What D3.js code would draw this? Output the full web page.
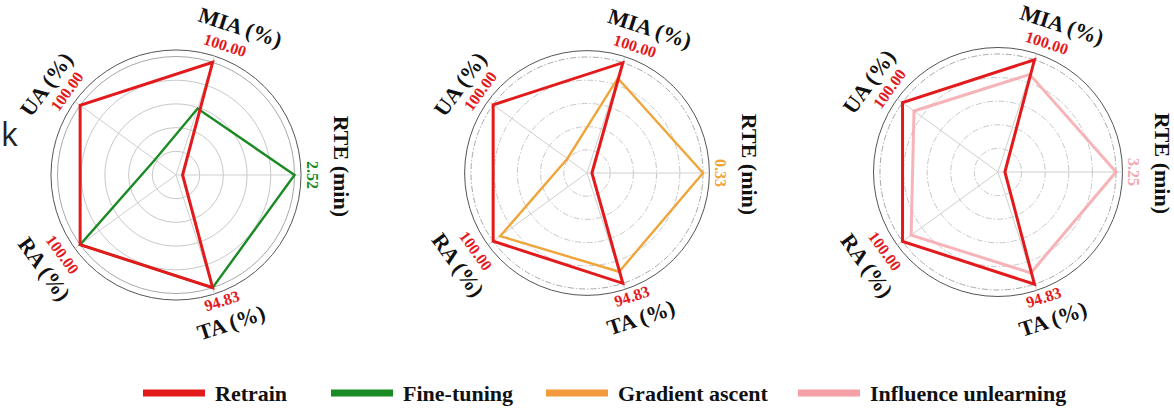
<!DOCTYPE html>
<html>
<head>
<meta charset="utf-8">
<script src="https://cdn.jsdelivr.net/npm/d3@7"></script>
<style>
  html, body { margin: 0; padding: 0; background: #fff; }
  svg { display: block; }
  .serif { font-family: "Liberation Serif", "Times New Roman", serif; font-weight: bold; }
</style>
</head>
<body>
<svg id="chart" width="1174" height="408"></svg>
<script>
// Axes of every radar, counter-clockwise from the right-hand spoke
const axes = ["RTE (min)", "MIA (%)", "UA (%)", "RA (%)", "TA (%)"];

// Values per method, in axis order: RTE, MIA, UA, RA, TA
const retrainVsFT = [0.14, 100, 100, 100, 94.83];
const fineTuning = [2.52, 59, 22, 100, 94.83];
const retrainVsGA = [0.014, 100, 100, 100, 94.83];
const gradientAscent = [0.33, 86, 21, 92.5, 84.9];
const retrainVsIU = [0.19, 100, 100, 100, 94.83];
const influenceUnlearning = [3.25, 87, 88, 91, 85.3];

const methodNames = ["Retrain", "Fine-tuning", "Gradient ascent", "Influence unlearning"];
const methodColors = ["#e31a1c", "#1a8a24", "#f0a53a", "#f4a7ad"];
const legendColors = ["#e31a1c", "#1a8a24", "#f39a3c", "#f5a0a6"];

const panels = [
  { cx: 176, cy: 175, R: 118.5, dashed: false,
    series: [{ values: fineTuning, method: 1 }, { values: retrainVsFT, method: 0 }] },
  { cx: 587, cy: 173, R: 116, dashed: true,
    series: [{ values: gradientAscent, method: 2 }, { values: retrainVsGA, method: 0 }] },
  { cx: 998, cy: 172, R: 118, dashed: true,
    series: [{ values: influenceUnlearning, method: 3 }, { values: retrainVsIU, method: 0 }] }
];

// label placement around the rim: [clockwise angle offset in degrees, radius factor]
const axisLabelPos = [[-3, 1.40], [5.5, 1.36], [-1, 1.335], [0.5, 1.365], [-2.5, 1.33]];
const valueLabelPos = [[0, 1.15], [2.7, 1.17], [1.5, 1.16], [1, 1.17], [-2, 1.13]];

const svg = d3.select("#chart");
const n = axes.length;
// d3 radial angle: 0 at 12 o'clock, clockwise
const angle = d3.scaleLinear().domain([0, n]).range([Math.PI / 2, Math.PI / 2 - 2 * Math.PI]);

function polar(a, r) { return [r * Math.sin(a), -r * Math.cos(a)]; }
function tangentRotation(a) {
  let deg = a * 180 / Math.PI;
  while (deg > 90) deg -= 180;
  while (deg <= -90) deg += 180;
  return deg;
}

// stray glyph left of the first radar
svg.append("text")
  .attr("x", 1).attr("y", 146)
  .style("font-family", "'Open Sans', 'DejaVu Sans', sans-serif")
  .style("font-size", "32px")
  .style("fill", "#222")
  .text("k");

panels.forEach(p => {
  const g = svg.append("g").attr("transform", `translate(${p.cx},${p.cy})`);

  // one radial scale per axis, spanning 0 .. max of the panel
  const radial = axes.map((_, i) => {
    const max = d3.max(p.series, s => s.values[i]);
    return d3.scaleLinear().domain([0, max]).range([0, p.R]);
  });
  const rim = p.R * 1.055;

  // grid rings
  g.selectAll("circle.grid")
    .data(d3.range(1, 6).map(k => k / 5))
    .join("circle")
    .attr("class", "grid")
    .attr("r", t => t * p.R)
    .attr("fill", "none")
    .attr("stroke", t => t === 1 ? "#a8a8a8" : "#c8c8c8")
    .attr("stroke-width", 1)
    .attr("stroke-dasharray", p.dashed ? "6,2,1.5,2" : null);

  // outer spine
  g.append("circle")
    .attr("r", rim)
    .attr("fill", "none")
    .attr("stroke", "#555")
    .attr("stroke-width", 1);

  // spokes
  g.selectAll("line.spoke")
    .data(axes)
    .join("line")
    .attr("class", "spoke")
    .attr("x1", 0).attr("y1", 0)
    .attr("x2", (_, i) => polar(angle(i), rim)[0])
    .attr("y2", (_, i) => polar(angle(i), rim)[1])
    .attr("stroke", "#cfcfcf")
    .attr("stroke-width", 1);

  // series polygons
  const line = d3.lineRadial()
    .angle((_, i) => angle(i))
    .radius((d, i) => radial[i](d))
    .curve(d3.curveLinearClosed);

  p.series.forEach(s => {
    const pink = s.method === 3;
    g.append("path")
      .attr("d", line(s.values))
      .attr("fill", "none")
      .attr("stroke", methodColors[s.method])
      .attr("stroke-width", s.method === 0 ? 3 : (pink ? 3 : 2.4))
      .attr("stroke-opacity", pink ? 0.85 : 1)
      .attr("stroke-linejoin", "miter");
  });

  // axis titles
  axes.forEach((name, i) => {
    const [off, f] = axisLabelPos[i];
    const a = angle(i) + off * Math.PI / 180;
    const [x, y] = polar(a, p.R * f);
    g.append("text")
      .attr("class", "serif")
      .attr("transform", `translate(${x},${y}) rotate(${tangentRotation(angle(i))})`)
      .attr("text-anchor", "middle")
      .attr("dominant-baseline", "central")
      .style("font-size", "22px")
      .style("fill", "#111")
      .text(name);
  });

  // maximum value on each axis, coloured by the method that reaches it
  axes.forEach((_, i) => {
    const max = d3.max(p.series, s => s.values[i]);
    const top = p.series.filter(s => s.values[i] === max)
      .sort((a, b) => a.method - b.method)[0];
    const [off, f] = valueLabelPos[i];
    const a = angle(i) + off * Math.PI / 180;
    const [x, y] = polar(a, p.R * f);
    g.append("text")
      .attr("class", "serif")
      .attr("transform", `translate(${x},${y}) rotate(${tangentRotation(angle(i))})`)
      .attr("text-anchor", "middle")
      .attr("dominant-baseline", "central")
      .style("font-size", "16px")
      .style("fill", methodColors[top.method])
      .text(max.toFixed(2));
  });
});

// legend
const legendX = [143, 331, 546, 798];
const legend = svg.append("g").attr("transform", "translate(0,393)");
methodNames.forEach((name, i) => {
  legend.append("line")
    .attr("x1", legendX[i]).attr("x2", legendX[i] + 62)
    .attr("y1", 0).attr("y2", 0)
    .attr("stroke", legendColors[i])
    .attr("stroke-width", 7);
  legend.append("text")
    .attr("class", "serif")
    .attr("x", legendX[i] + 72).attr("y", 0)
    .attr("dominant-baseline", "central")
    .style("font-size", "22px")
    .style("fill", "#111")
    .text(name);
});
</script>
</body>
</html>
